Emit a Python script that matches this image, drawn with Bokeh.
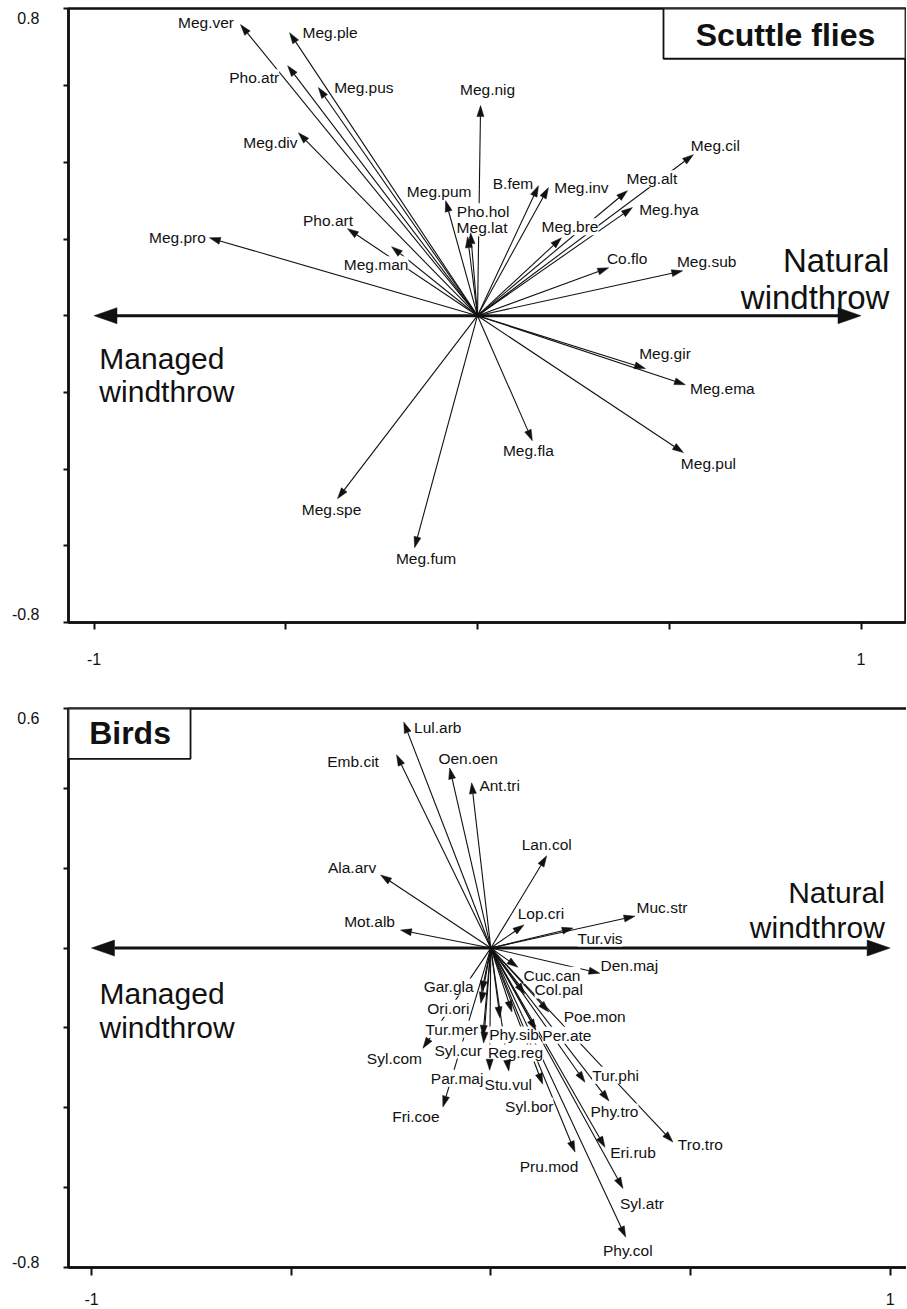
import numpy as np
from bokeh.plotting import figure
from bokeh.models import (ColumnDataSource, FixedTicker, Label, BoxAnnotation,
                          CustomJSTickFormatter)
from bokeh.layouts import column
from bokeh.embed import file_html
from bokeh.resources import INLINE
from bokeh.core.properties import value

FONT = "Liberation Sans"
INK = "#111111"

# ---------------- Scuttle flies (top panel) ----------------
fly_species = ["Meg.ver", "Meg.ple", "Pho.atr", "Meg.pus", "Meg.div", "Meg.pum",
               "Pho.art", "Meg.man", "Meg.pro", "Pho.hol", "Meg.lat", "Meg.nig",
               "B.fem", "Meg.inv", "Meg.bre", "Meg.alt", "Meg.cil", "Meg.hya",
               "Co.flo", "Meg.sub", "Meg.gir", "Meg.ema", "Meg.fla", "Meg.pul",
               "Meg.spe", "Meg.fum"]
fly_x = [-0.618, -0.490, -0.495, -0.415, -0.467, -0.083,
         -0.339, -0.224, -0.699, -0.018, -0.026, 0.008,
         0.159, 0.185, 0.219, 0.391, 0.563, 0.404,
         0.342, 0.535, 0.438, 0.542, 0.143, 0.537,
         -0.365, -0.164]
fly_y = [0.759, 0.738, 0.652, 0.595, 0.477, 0.300,
         0.227, 0.180, 0.203, 0.216, 0.206, 0.548,
         0.339, 0.334, 0.203, 0.326, 0.420, 0.282,
         0.125, 0.117, -0.138, -0.180, -0.326, -0.357,
         -0.477, -0.605]
# label offsets from the arrow tip (pixels, right / down)
fly_label_dx = [-34.5, 40.5, -33.5, 45.5, -28, -6.5,
                -19.5, -15.5, -32, 12.5, 14.5, 7,
                -25.5, 33, 8.5, 24.5, 22, 36.5,
                18.5, 24, 19.5, 37, -4, 25,
                -6, 11.5]
fly_label_dy = [-2, 0, 12, 0, 10, -9,
                -8, 18, 0, -21, -9, -16,
                -2, 0, -11, -12, -9, 2,
                -9, -9, -15, 4, 10, 11,
                11, 11]

# ---------------- Birds (bottom panel) ----------------
bird_species = ["Lul.arb", "Emb.cit", "Oen.oen", "Ant.tri", "Lan.col", "Ala.arv",
                "Mot.alb", "Lop.cri", "Muc.str", "Tur.vis", "Den.maj", "Cuc.can",
                "Col.pal", "Gar.gla", "Ori.ori", "Tur.mer", "Syl.cur", "Syl.com",
                "Par.maj", "Fri.coe", "Phy.sib", "Reg.reg", "Stu.vul", "Syl.bor",
                "Per.ate", "Poe.mon", "Tur.phi", "Phy.tro", "Tro.tro", "Eri.rub",
                "Pru.mod", "Syl.atr", "Phy.col"]
bird_x = [-0.218, -0.236, -0.103, -0.048, 0.140, -0.276,
          -0.226, 0.083, 0.361, 0.206, 0.273, 0.068,
          0.085, -0.023, -0.025, -0.020, -0.018, -0.170,
          -0.003, -0.120, 0.023, 0.053, 0.045, 0.130,
          0.113, 0.145, 0.236, 0.296, 0.456, 0.286,
          0.211, 0.331, 0.338]
bird_y = [0.566, 0.484, 0.451, 0.414, 0.231, 0.183,
          0.045, 0.058, 0.080, 0.050, -0.063, -0.048,
          -0.115, -0.110, -0.138, -0.221, -0.238, -0.251,
          -0.306, -0.398, -0.175, -0.160, -0.308, -0.341,
          -0.206, -0.160, -0.336, -0.383, -0.486, -0.499,
          -0.511, -0.602, -0.724]
bird_label_dx = [34, -43.5, 18.5, 28, 0, -28.5,
                 -31, 17, 27, 27, 29.5, 34,
                 34, -33, -32.5, -31, -25.5, -28.5,
                 -32.5, -27, 14, 3.5, -0.5, -13.5,
                 31, 46, 30.5, 5.5, 27.5, 28,
                 -26, 19, 2]
bird_label_dy = [5, 7, -9, 3, -11, -8,
                 -9, -11, -9, 10, -8, 8,
                 -4, -5, 5, -7, 7, 10,
                 8, 10, 17, 41, 13, 22,
                 5, 5, -7, 11, 2, 5,
                 14, 15, 13]

x_tick_labels = ["-1", "1"]


def head_polys(tx, ty, L, W):
    tx = np.asarray(tx, float)
    ty = np.asarray(ty, float)
    r = np.hypot(tx, ty)
    ux, uy = tx / r, ty / r
    bx, by = tx - L * ux, ty - L * uy
    nx, ny = -uy, ux
    xs = [[a, b + W / 2 * c, b - W / 2 * c] for a, b, c in zip(tx, bx, nx)]
    ys = [[a, b + W / 2 * c, b - W / 2 * c] for a, b, c in zip(ty, by, ny)]
    return xs, ys, bx, by


def make_panel(names, xs, ys, ldx, ldy, ppu, x_start, y_start, y_end, frame_w,
               border_left, border_top, border_bottom, yticks, x_tick_out,
               x_standoff, title, title_box, title_pos, natural_pos, managed_pos,
               big_font, managed_font, ylab_ticks, ylab_text):
    frame_h = int(round((y_end - y_start) * ppu))
    x_end = x_start + frame_w / ppu
    p = figure(frame_width=frame_w, frame_height=frame_h,
               x_range=(x_start, x_end), y_range=(y_start, y_end),
               output_backend="svg", toolbar_location=None,
               min_border_left=border_left, min_border_right=1,
               min_border_top=border_top, min_border_bottom=border_bottom)
    p.grid.visible = False
    p.outline_line_color = INK
    p.outline_line_width = 2.5
    p.outline_line_alpha = 1.0
    p.background_fill_color = "white"
    p.border_fill_color = "white"

    # x axis
    xa = p.xaxis[0]
    xa.ticker = FixedTicker(ticks=[-1, 1], minor_ticks=[-0.5, 0, 0.5])
    xa.major_label_overrides = {-1: x_tick_labels[0], 1: x_tick_labels[1]}
    xa.axis_line_width = 2.5
    xa.axis_line_color = INK
    xa.major_tick_out = x_tick_out
    xa.major_tick_in = 0
    xa.minor_tick_out = x_tick_out
    xa.minor_tick_in = 0
    xa.major_tick_line_width = 2
    xa.minor_tick_line_width = 2
    xa.major_tick_line_color = INK
    xa.minor_tick_line_color = INK
    xa.major_label_text_font = FONT
    xa.major_label_text_font_size = "16px"
    xa.major_label_text_color = INK
    xa.major_label_standoff = x_standoff

    # y axis: unlabeled ticks as minor ticks; end labels on invisible major ticks
    ya = p.yaxis[0]
    ya.ticker = FixedTicker(ticks=ylab_ticks, minor_ticks=yticks)
    ya.formatter = CustomJSTickFormatter(
        args=dict(hi=ylab_text[0], lo=ylab_text[1]),
        code="return tick > 0 ? hi : lo;")
    ya.axis_line_width = 2.5
    ya.axis_line_color = INK
    ya.major_tick_line_color = None
    ya.major_tick_out = 0
    ya.major_tick_in = 0
    ya.minor_tick_out = 5
    ya.minor_tick_in = 0
    ya.minor_tick_line_width = 2
    ya.minor_tick_line_color = INK
    ya.major_label_text_font = FONT
    ya.major_label_text_font_size = "16px"
    ya.major_label_text_color = INK
    ya.major_label_standoff = 24

    # main gradient axis (double arrow)
    Lb, Wb = 23 / ppu, 16 / ppu
    hx, hy, bx, by = head_polys([-1.0, 1.0], [0.0, 0.0], Lb, Wb)
    p.segment(x0=[bx[0]], y0=[0], x1=[bx[1]], y1=[0], line_color=INK, line_width=3)
    p.patches(xs=hx, ys=hy, fill_color=INK, line_color=INK, line_width=0.5)

    # species arrows
    L, W = 11 / ppu, 7 / ppu
    sx, sy, sbx, sby = head_polys(xs, ys, L, W)
    src = ColumnDataSource(dict(x0=[0.0] * len(xs), y0=[0.0] * len(xs),
                                x1=list(sbx), y1=list(sby), x=xs, y=ys,
                                name=names, dx=ldx, dy=ldy))
    p.segment(x0="x0", y0="y0", x1="x1", y1="y1", source=src,
              line_color=INK, line_width=1.1)
    p.text(x="x", y="y", text="name", x_offset="dx", y_offset="dy", source=src,
           text_font=value(FONT), text_font_size="15.5px", text_color=INK,
           text_align="center", text_baseline="middle",
           background_fill_color="white")
    p.patches(xs=sx, ys=sy, fill_color=INK, line_color=INK, line_width=0.5)

    # Natural / Managed windthrow
    nx_, ny1, ny2 = natural_pos
    for t, yy in (("Natural", ny1), ("windthrow", ny2)):
        p.add_layout(Label(x=nx_, y=yy, text=t, text_font=FONT,
                           text_font_size=big_font, text_align="right",
                           text_baseline="alphabetic", text_color=INK))
    mx_, my1, my2 = managed_pos
    for t, yy in (("Managed", my1), ("windthrow", my2)):
        p.add_layout(Label(x=mx_, y=yy, text=t, text_font=FONT,
                           text_font_size=managed_font, text_align="left",
                           text_baseline="alphabetic", text_color=INK))

    # title box
    bl, br, bb, bt = title_box
    if bl is None:
        bl = x_start
    if br is None:
        br = x_end
    p.add_layout(BoxAnnotation(left=bl, right=br, bottom=bb, top=y_end,
                               fill_color="white", fill_alpha=1.0,
                               line_color=INK, line_width=1.8, line_alpha=1.0))
    p.add_layout(Label(x=title_pos[0], y=title_pos[1], text=title, text_font=FONT,
                       text_font_size="32px", text_font_style="bold",
                       text_align="center", text_baseline="middle",
                       text_color=INK))
    return p


ppu1 = 383.5
p1 = make_panel(fly_species, fly_x, fly_y, fly_label_dx, fly_label_dy, ppu1,
                x_start=-1.0665, y_start=-0.8, y_end=-0.8 + 614 / ppu1,
                frame_w=837, border_left=68, border_top=8, border_bottom=78,
                yticks=[-0.8, -0.6, -0.4, -0.2, 0.0, 0.2, 0.4, 0.6, 0.8],
                x_tick_out=7, x_standoff=23,
                title="Scuttle flies", title_box=(0.485, None, 0.670, None),
                title_pos=(0.803, 0.733),
                natural_pos=(1.074, 0.1434, 0.0469),
                managed_pos=(-0.986, -0.112, -0.198),
                big_font="33px", managed_font="30px",
                ylab_ticks=[0.8 - 9 / ppu1, -0.8 + 9 / ppu1],
                ylab_text=["0.8", "-0.8"])

ppu2 = 399.3
p2 = make_panel(bird_species, bird_x, bird_y, bird_label_dx, bird_label_dy, ppu2,
                x_start=-1.0576, y_start=-0.8, y_end=0.6,
                frame_w=839, border_left=66, border_top=8, border_bottom=41,
                yticks=[-0.8, -0.6, -0.4, -0.2, 0.0, 0.2, 0.4, 0.6],
                x_tick_out=8, x_standoff=17,
                title="Birds", title_box=(None, -0.752, 0.474, None),
                title_pos=(-0.9035, 0.538),
                natural_pos=(0.987, 0.138, 0.0526),
                managed_pos=(-0.98, -0.113, -0.198),
                big_font="30px", managed_font="30px",
                ylab_ticks=[0.6 - 10 / ppu2, -0.8 + 6 / ppu2],
                ylab_text=["0.6", "-0.8"])

layout = column(p1, p2, spacing=0)
open("out.html", "w").write(file_html(layout, INLINE))
